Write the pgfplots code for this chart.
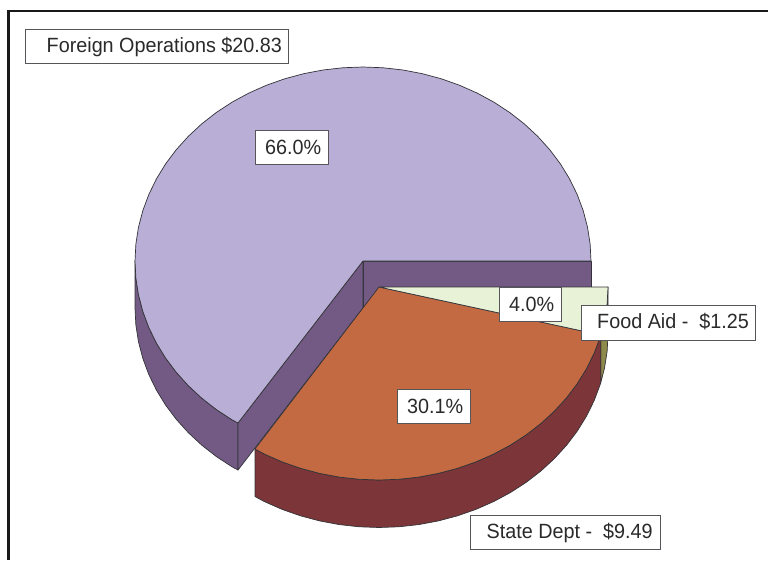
\documentclass[border=0pt]{standalone}
\usepackage{fontspec}
\setmainfont[FakeStretch=0.96]{Liberation Sans}
\usepackage{pgfplots}
\pgfplotsset{compat=1.18}
\definecolor{ptop}{HTML}{B9AED6}
\definecolor{pside}{HTML}{725A84}
\definecolor{otop}{HTML}{C46A43}
\definecolor{rside}{HTML}{7C3639}
\definecolor{gtop}{HTML}{E8F2D6}
\definecolor{oside}{HTML}{8E8A4C}
\definecolor{edge}{HTML}{333338}
\definecolor{boxline}{HTML}{55555A}
\definecolor{txt}{HTML}{2A2A2A}
\begin{document}
\begin{tikzpicture}[
  lbox/.style={draw=boxline,line width=0.9pt,fill=white,inner sep=0pt,anchor=center},
  ltxt/.style={inner sep=0pt,anchor=base west,text=txt,font=\fontsize{20.6}{24}\selectfont}]
\begin{axis}[
  scale only axis,width=768pt,height=560pt,
  xmin=0,xmax=768,ymin=0,ymax=560,y dir=reverse,
  hide axis,clip=true,axis line style={draw=none}]
% page background
\addplot[draw=none,fill=white] coordinates {(0,0)(768,0)(768,560)(0,560)} --cycle;
% frame
\addplot[black!90,line width=2.2pt] coordinates {(8.5,560)(8.5,11)(768,11)};
% purple rim
\addplot[fill=pside,draw=edge,line width=0.7pt,line join=round] coordinates {
(135,261)(135.87,277.91)(138.46,294.69)(142.77,311.21)(148.75,327.35)(156.36,342.99)(165.55,358)(176.23,372.27)(188.34,385.70)(201.78,398.18)(216.44,409.61)(232.22,419.92)(238,423)
(238,470)(232.22,466.92)(216.44,456.61)(201.78,445.18)(188.34,432.70)(176.23,419.27)(165.55,405)(156.36,389.99)(148.75,374.35)(142.77,358.21)(138.46,341.69)(135.87,324.91)(135,308)} --cycle;
% purple inner walls
\addplot[fill=pside,draw=edge,line width=0.7pt,line join=round] coordinates {(363,261)(591,261)(591,308)(363,308)} --cycle;
\addplot[fill=pside,draw=edge,line width=0.7pt,line join=round] coordinates {(363,261)(238,423)(238,470)(363,308)} --cycle;
% purple top
\addplot[fill=ptop,draw=edge,line width=0.7pt,line join=round] coordinates {
(363,261)(591,261)(590.13,244.09)(587.54,227.31)(583.23,210.79)(577.25,194.65)(569.64,179.01)(560.45,164)(549.77,149.73)(537.66,136.30)(524.22,123.82)(509.56,112.39)(493.78,102.08)(477,92.99)(459.36,85.18)(440.98,78.70)(422.01,73.61)(402.59,69.95)(382.87,67.74)(363,67)(343.13,67.74)(323.41,69.95)(303.99,73.61)(285.02,78.70)(266.64,85.18)(249,92.99)(232.22,102.08)(216.44,112.39)(201.78,123.82)(188.34,136.30)(176.23,149.73)(165.55,164)(156.36,179.01)(148.75,194.65)(142.77,210.79)(138.46,227.31)(135.87,244.09)(135,261)(135.87,277.91)(138.46,294.69)(142.77,311.21)(148.75,327.35)(156.36,342.99)(165.55,358)(176.23,372.27)(188.34,385.70)(201.78,398.18)(216.44,409.61)(232.22,419.92)(238,423)} --cycle;
% olive rim
\addplot[fill=oside,draw=edge,line width=0.7pt,line join=round] coordinates {
(608,287)(607.13,303.82)(604.52,320.51)(600.8,335)(600.8,382.5)(604.52,368)(607.13,351.3)(608,334.5)} --cycle;
% red rim
\addplot[fill=rside,draw=edge,line width=0.7pt,line join=round] coordinates {
(600.8,335)(600.2,336.95)(594.19,353.01)(586.54,368.57)(577.32,383.5)(566.59,397.7)(554.42,411.06)(540.93,423.47)(526.2,434.85)(510.35,445.1)(493.5,454.14)(475.78,461.92)(457.32,468.36)(438.27,473.42)(418.77,477.07)(398.96,479.26)(379,480)(359.04,479.26)(339.23,477.07)(319.73,473.42)(300.68,468.36)(282.22,461.92)(264.5,454.14)(255,449)
(255,496.5)(264.5,501.64)(282.22,509.42)(300.68,515.86)(319.73,520.92)(339.23,524.57)(359.04,526.76)(379,527.5)(398.96,526.76)(418.77,524.57)(438.27,520.92)(457.32,515.86)(475.78,509.42)(493.5,501.64)(510.35,492.6)(526.2,482.35)(540.93,470.97)(554.42,458.56)(566.59,445.2)(577.32,431)(586.54,416.07)(594.19,400.51)(600.2,384.45)(600.8,382.5)} --cycle;
% orange top
\addplot[fill=otop,draw=edge,line width=0.7pt,line join=round] coordinates {
(379,287)(600.8,335)(600.2,336.95)(594.19,353.01)(586.54,368.57)(577.32,383.5)(566.59,397.7)(554.42,411.06)(540.93,423.47)(526.2,434.85)(510.35,445.1)(493.5,454.14)(475.78,461.92)(457.32,468.36)(438.27,473.42)(418.77,477.07)(398.96,479.26)(379,480)(359.04,479.26)(339.23,477.07)(319.73,473.42)(300.68,468.36)(282.22,461.92)(264.5,454.14)(255,449)} --cycle;
% green top
\addplot[fill=gtop,draw=edge,line width=0.7pt,line join=round] coordinates {
(379,287)(608,287)(607.13,303.82)(604.52,320.51)(600.8,335)} --cycle;
% labels
\node[lbox,minimum width=263pt,minimum height=34pt] at (axis cs:157,46) {};
\node[ltxt] at (axis cs:46.5,52.5) {Foreign Operations \$20.83};
\node[lbox,minimum width=73pt,minimum height=34pt] at (axis cs:291.5,147.8) {};
\node[ltxt] at (axis cs:265,154) {66.0\%};
\node[lbox,minimum width=73pt,minimum height=34pt] at (axis cs:434,406.5) {};
\node[ltxt] at (axis cs:407,413.3) {30.1\%};
\node[lbox,minimum width=62pt,minimum height=34pt] at (axis cs:530,304.5) {};
\node[ltxt] at (axis cs:509,311) {4.0\%};
\node[lbox,minimum width=174pt,minimum height=35pt] at (axis cs:668,322.5) {};
\node[ltxt] at (axis cs:597,328.5) {Food Aid -\ \ \$1.25};
\node[lbox,minimum width=190pt,minimum height=34pt] at (axis cs:565,532) {};
\node[ltxt] at (axis cs:486.5,538.5) {State Dept -\ \ \$9.49};
\end{axis}
\end{tikzpicture}
\end{document}
